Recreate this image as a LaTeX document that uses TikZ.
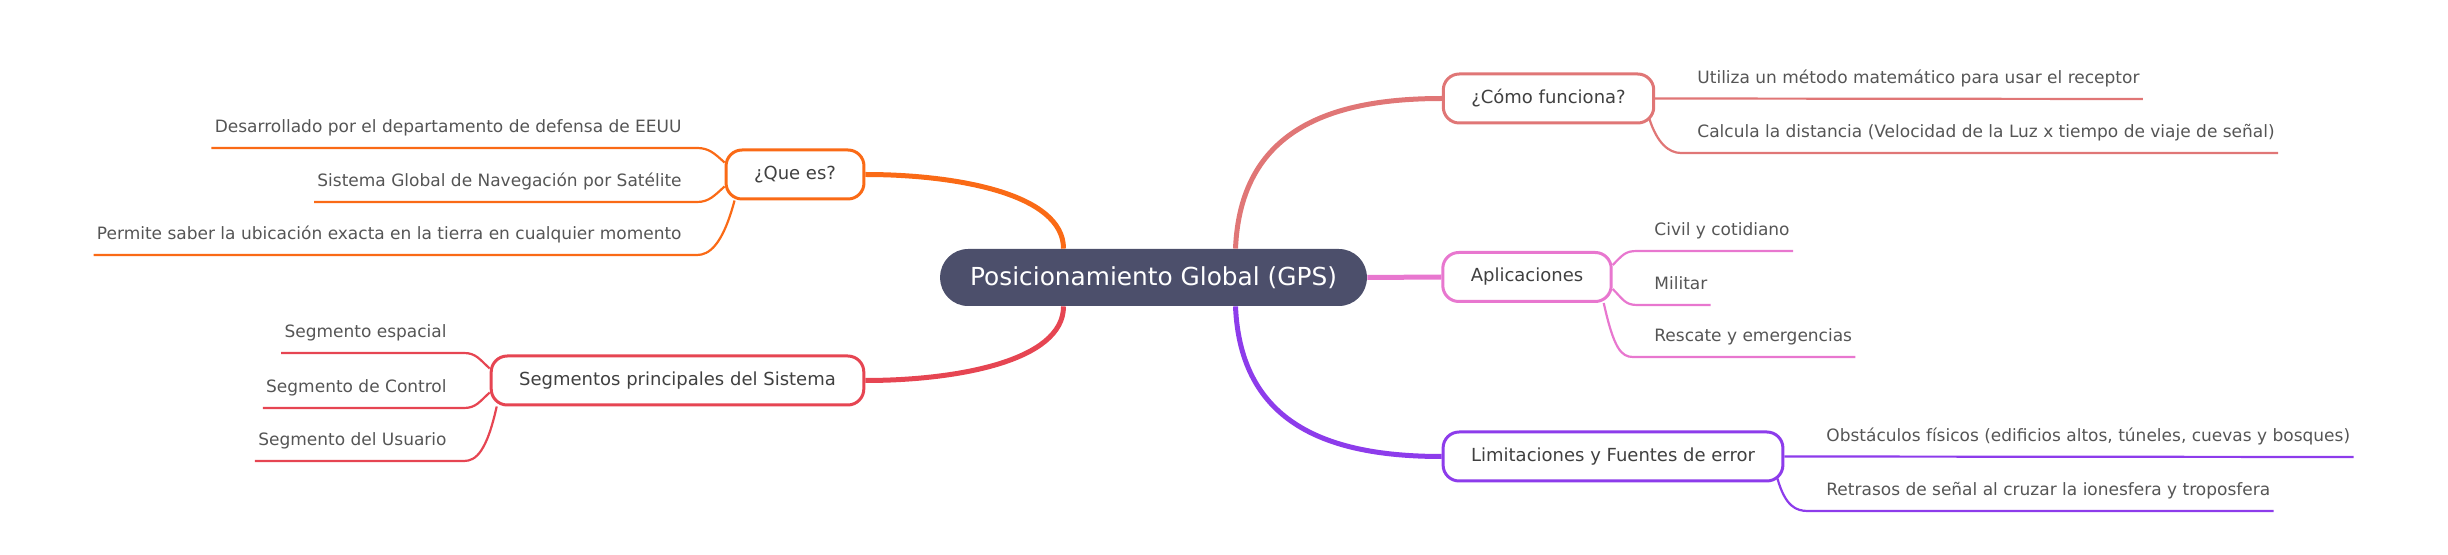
\documentclass[tikz,border=0pt]{standalone}
\usepackage{fontspec}
\setmainfont{DejaVu Sans}
\usepackage{xcolor}
\usetikzlibrary{calc}

\definecolor{gpsfill}{HTML}{4C4F6B}
\definecolor{quecol}{HTML}{FA6A16}
\definecolor{segcol}{HTML}{E64552}
\definecolor{comocol}{HTML}{E07676}
\definecolor{aplcol}{HTML}{E877CF}
\definecolor{limcol}{HTML}{8D3CEB}
\definecolor{boxtext}{HTML}{404040}
\definecolor{leaftext}{HTML}{555555}

\begin{document}
\begin{tikzpicture}[x=0.5pt,y=-0.5pt,
  topic/.style={fill=gpsfill, text=white, rounded corners=14pt, minimum height=28.5pt, inner xsep=15pt, font=\fontsize{12.4}{14}\selectfont},
  branch/.style={draw=#1, fill=white, line width=1.5pt, rounded corners=8pt, minimum height=24.5pt, inner xsep=14pt, text=boxtext, font=\fontsize{9}{11}\selectfont},
  leaf/.style={inner sep=0pt, inner xsep=1.5pt, text height=7pt, text depth=7.5pt, text=leaftext, font=\fontsize{8.5}{10}\selectfont},
  main/.style={draw=#1, line width=2.5pt},
  sub/.style={draw=#1, line width=1.1pt}]
\useasboundingbox (0,0) rectangle (2448,555);

% Centre and main topics
\node[topic] (gps) at (1153.5,277.5) {Posicionamiento Global (GPS)};
\node[branch=quecol] (que) at (795,174.5) {¿Que es?};
\node[branch=segcol] (seg) at (677.5,380.5) {Segmentos principales del Sistema};
\node[branch=comocol] (como) at (1548.5,98.5) {¿Cómo funciona?};
\node[branch=aplcol] (apl) at (1527,277) {Aplicaciones};
\node[branch=limcol] (lim) at (1613,456.5) {Limitaciones y Fuentes de error};

\draw[main=quecol] ([xshift=-45pt]gps.north) .. controls +(0,-55) and +(90,0) .. (que.east);
\draw[main=segcol] ([xshift=-45pt]gps.south) .. controls +(0,55) and +(90,0) .. (seg.east);
\draw[main=comocol] ([xshift=41pt]gps.north) .. controls +(5,-118) and +(-113,0) .. (como.west);
\draw[main=aplcol] (gps.east) -- (apl.west);
\draw[main=limcol] ([xshift=41pt]gps.south) .. controls +(5,118) and +(-113,0) .. (lim.west);

% Que es
\node[leaf, anchor=south east] (q1) at (685,148) {Desarrollado por el departamento de defensa de EEUU};
\node[leaf, anchor=south east] (q2) at (685,202) {Sistema Global de Navegación por Satélite};
\node[leaf, anchor=south east] (q3) at (685,255) {Permite saber la ubicación exacta en la tierra en cualquier momento};
\draw[sub=quecol] ([yshift=6pt]que.west) .. controls +(-10,-9) and +(12,0) .. ([xshift=6pt]q1.south east) -- (q1.south west);
\draw[sub=quecol] ([yshift=-6pt]que.west) .. controls +(-10,9) and +(12,0) .. ([xshift=6pt]q2.south east) -- (q2.south west);
\draw[sub=quecol] ([xshift=5pt]que.south west) .. controls +(-12,45) and +(12,0) .. ([xshift=6pt]q3.south east) -- (q3.south west);

% Segmentos
\node[leaf, anchor=south east] (s1) at (450,353) {Segmento espacial};
\node[leaf, anchor=south east] (s2) at (450,408) {Segmento de Control};
\node[leaf, anchor=south east] (s3) at (450,461) {Segmento del Usuario};
\draw[sub=segcol] ([yshift=6pt]seg.west) .. controls +(-10,-9) and +(12,0) .. ([xshift=7pt]s1.south east) -- (s1.south west);
\draw[sub=segcol] ([yshift=-6pt]seg.west) .. controls +(-10,9) and +(12,0) .. ([xshift=7pt]s2.south east) -- (s2.south west);
\draw[sub=segcol] ([xshift=3.5pt]seg.south west) .. controls +(-10,45) and +(12,0) .. ([xshift=7pt]s3.south east) -- (s3.south west);

% Como funciona
\node[leaf, anchor=south west] (c1) at (1694,99) {Utiliza un método matemático para usar el receptor};
\node[leaf, anchor=south west] (c2) at (1694,153) {Calcula la distancia (Velocidad de la Luz x tiempo de viaje de señal)};
\draw[sub=comocol] (como.east) -- (c1.south east);
\draw[sub=comocol] ([xshift=-3pt,yshift=3pt]como.south east) .. controls +(8,25) and +(-12,0) .. ([xshift=-6.5pt]c2.south west) -- (c2.south east);

% Aplicaciones
\node[leaf, anchor=south west] (a1) at (1651,251) {Civil y cotidiano};
\node[leaf, anchor=south west] (a2) at (1651,305) {Militar};
\node[leaf, anchor=south west] (a3) at (1651,357) {Rescate y emergencias};
\draw[sub=aplcol] ([yshift=6pt]apl.east) .. controls +(10,-10) and +(-12,0) .. ([xshift=-7pt]a1.south west) -- (a1.south east);
\draw[sub=aplcol] ([yshift=-6pt]apl.east) .. controls +(10,10) and +(-12,0) .. ([xshift=-7pt]a2.south west) -- (a2.south east);
\draw[sub=aplcol] ([xshift=-4.5pt]apl.south east) .. controls +(10,45) and +(-12,0) .. ([xshift=-9pt]a3.south west) -- (a3.south east);

% Limitaciones
\node[leaf, anchor=south west] (l1) at (1823,457) {Obstáculos físicos (edificios altos, túneles, cuevas y bosques)};
\node[leaf, anchor=south west] (l2) at (1823,511) {Retrasos de señal al cruzar la ionesfera y troposfera};
\draw[sub=limcol] (lim.east) -- (l1.south east);
\draw[sub=limcol] ([xshift=-3.5pt,yshift=2pt]lim.south east) .. controls +(8,28) and +(-12,0) .. ([xshift=-7.5pt]l2.south west) -- (l2.south east);

\end{tikzpicture}
\end{document}
